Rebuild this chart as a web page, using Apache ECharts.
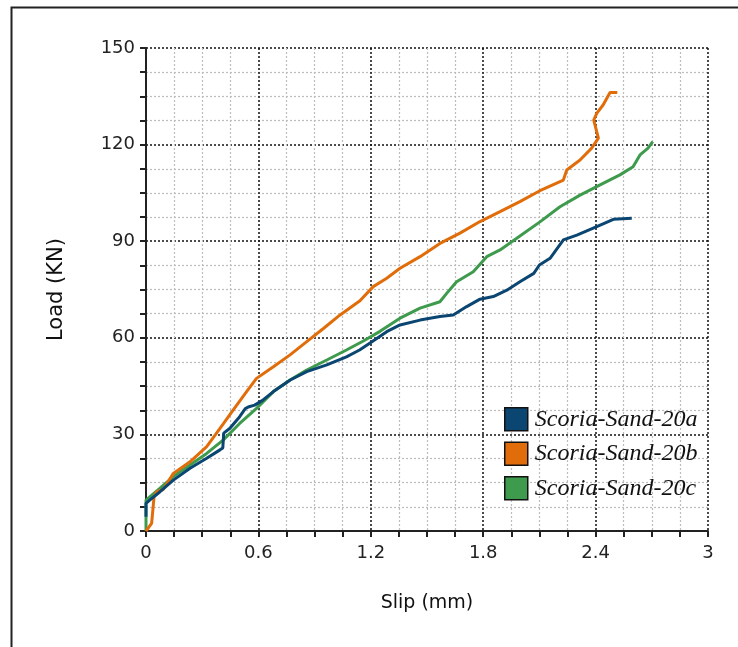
<!DOCTYPE html>
<html>
<head>
<meta charset="utf-8">
<script src="https://cdn.jsdelivr.net/npm/echarts@6/dist/echarts.min.js"></script>
<style>
  html, body { margin: 0; padding: 0; background: #fff; }
  #chart { width: 738px; height: 647px; }
</style>
</head>
<body>
<div id="chart"></div>
<script>
// series names
var names = ['Scoria-Sand-20a', 'Scoria-Sand-20b', 'Scoria-Sand-20c'];
var colors = ['#0b4672', '#e06d0a', '#3e9a4c'];

// Scoria-Sand-20a
var slipA = [0, 0, 0.02, 0.075, 0.146, 0.235, 0.324, 0.395, 0.41, 0.415, 0.448, 0.50, 0.53, 0.55, 0.58, 0.62,
  0.68, 0.77, 0.858, 0.965, 1.07, 1.14, 1.21, 1.285, 1.356, 1.463, 1.569, 1.64, 1.712, 1.783, 1.854,
  1.926, 1.996, 2.07, 2.10, 2.157, 2.228, 2.30, 2.406, 2.495, 2.593];
var loadA = [4.4, 8.6, 9.6, 12.2, 15.8, 19.5, 22.6, 25.2, 25.8, 30.4, 31.9, 35.5, 38.0, 38.6, 39.1, 40.5,
  43.3, 46.9, 49.5, 51.6, 54.1, 56.2, 58.9, 61.9, 64.0, 65.5, 66.6, 67.1, 69.7, 72.0, 72.8,
  74.8, 77.4, 80.0, 82.6, 84.7, 90.4, 91.9, 94.5, 96.8, 97.1];

// Scoria-Sand-20b
var slipB = [0, 0.03, 0.04, 0.043, 0.057, 0.092, 0.146, 0.235, 0.324, 0.395, 0.466, 0.537, 0.59, 0.68, 0.769,
  0.858, 0.947, 1.036, 1.142, 1.213, 1.285, 1.356, 1.463, 1.569, 1.676, 1.783, 1.89, 1.996, 2.10, 2.228,
  2.246, 2.317, 2.379, 2.415, 2.406, 2.39, 2.406, 2.44, 2.477, 2.516];
var loadB = [0, 2.4, 3.0, 10.6, 12.2, 12.9, 17.9, 21.5, 26.2, 31.9, 37.6, 43.3, 47.4, 51.0, 54.7,
  58.8, 62.9, 67.1, 71.5, 75.9, 78.5, 81.6, 85.2, 89.3, 92.5, 96.1, 99.2, 102.3, 105.6, 109.0,
  112.1, 115.2, 118.9, 122.0, 124.0, 127.6, 129.7, 132.3, 136.2, 136.2];

// Scoria-Sand-20c
var slipC = [0, 0, 0.02, 0.075, 0.146, 0.235, 0.324, 0.413, 0.50, 0.59, 0.68, 0.769, 0.858, 0.965, 1.07,
  1.16, 1.249, 1.356, 1.463, 1.569, 1.605, 1.658, 1.747, 1.819, 1.89, 1.979, 2.103, 2.21, 2.317, 2.424,
  2.53, 2.60, 2.637, 2.68, 2.705];
var loadC = [0, 9.6, 10.6, 13.3, 16.9, 20.5, 24.1, 28.3, 33.4, 38.1, 43.3, 46.9, 50.0, 53.1, 56.2,
  59.0, 62.0, 66.1, 69.2, 71.2, 73.8, 77.4, 80.5, 85.2, 87.3, 90.9, 96.0, 100.7, 104.3, 107.5,
  110.6, 113.1, 116.8, 118.9, 120.9];

function pairs(xs, ys) {
  var out = [];
  for (var i = 0; i < xs.length; i++) {
    out.push([xs[i], ys[i]]);
  }
  return out;
}

var seriesData = [pairs(slipA, loadA), pairs(slipB, loadB), pairs(slipC, loadC)];

var chart = echarts.init(document.getElementById('chart'));

var axisCommon = {
  axisLine: { show: true, onZero: false, lineStyle: { color: '#222', width: 2 } },
  axisTick: { show: true, inside: false, length: 6, lineStyle: { color: '#222', width: 2 } },
  minorTick: { show: true, splitNumber: 4, length: 6, lineStyle: { color: '#222', width: 2 } },
  axisLabel: { color: '#222', fontFamily: 'DejaVu Sans', fontSize: 18 },
  splitLine: { show: true, lineStyle: { color: '#111', type: [2, 2], width: 1.5 } },
  minorSplitLine: { show: true, lineStyle: { color: '#bdbdbd', type: [2, 2], width: 1.2 } }
};

var series = [];
for (var i = 0; i < 3; i++) {
  series.push({
    name: names[i],
    type: 'line',
    data: seriesData[i],
    showSymbol: false,
    symbol: 'none',
    smooth: false,
    lineStyle: { color: colors[i], width: 3 },
    itemStyle: { color: colors[i] },
    z: 3 - i
  });
}

var option = {
  animation: false,
  backgroundColor: '#fff',
  graphic: [{
    type: 'rect',
    left: 9,
    top: 5,
    shape: { width: 800, height: 700 },
    style: { fill: 'none', stroke: '#222', lineWidth: 2 },
    silent: true
  }],
  grid: { left: 146, right: 30, top: 48, bottom: 116, containLabel: false },
  legend: {
    orient: 'vertical',
    left: 499,
    top: 402,
    icon: 'rect',
    itemWidth: 23,
    itemHeight: 23,
    itemGap: 10,
    data: names,
    itemStyle: { borderColor: '#111', borderWidth: 1.5 },
    textStyle: {
      fontFamily: 'Liberation Serif, Times New Roman', fontStyle: 'italic',
      fontSize: 24, lineHeight: 23, color: '#111', padding: [0, 0, 0, 2]
    }
  },
  xAxis: Object.assign({}, axisCommon, {
    type: 'value',
    min: 0,
    max: 3,
    interval: 0.6,
    name: 'Slip (mm)',
    nameLocation: 'middle',
    nameGap: 63,
    nameTextStyle: { color: '#111', fontFamily: 'DejaVu Sans', fontSize: 19 },
    axisLabel: Object.assign({}, axisCommon.axisLabel, { margin: 13 })
  }),
  yAxis: Object.assign({}, axisCommon, {
    type: 'value',
    min: 0,
    max: 150,
    interval: 30,
    name: 'Load (KN)',
    nameLocation: 'middle',
    nameGap: 79,
    nameTextStyle: { color: '#111', fontFamily: 'DejaVu Sans', fontSize: 21 },
    axisLabel: Object.assign({}, axisCommon.axisLabel, { margin: 11 })
  }),
  series: series
};

chart.setOption(option);
</script>
</body>
</html>
